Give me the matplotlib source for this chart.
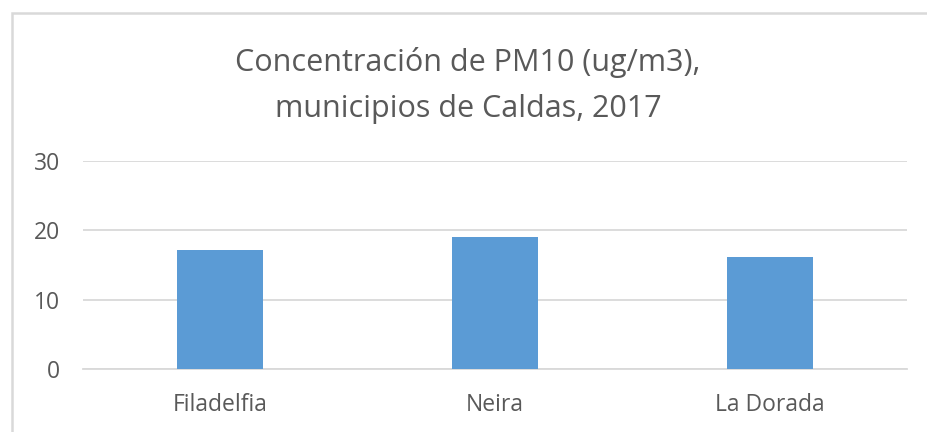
import matplotlib
matplotlib.use("Agg")
import matplotlib.pyplot as plt
from matplotlib.patches import Rectangle

categories = ["Filadelfia", "Neira", "La Dorada"]
values = [17.1, 19.0, 16.1]
yticks = [0, 10, 20, 30]
title_lines = ["Concentración de PM10 (ug/m3),", "municipios de Caldas, 2017"]

plt.rcParams['font.family'] = ['Open Sans', 'DejaVu Sans']
W, H = 927, 432
fig = plt.figure(figsize=(W/100, H/100), dpi=100)
fig.patch.set_facecolor("white")

# chart border (left and top visible)
fig.add_artist(Rectangle((11.5/W, -0.1), 1.2, (H - 12.5)/H + 0.1, transform=fig.transFigure,
                         fill=False, edgecolor="#d9d9d9", linewidth=1.8))

ax = fig.add_axes([83/W, 1 - 369/H, (907-83)/W, (369-161)/H])
ax.bar(range(len(categories)), values, width=0.313, color="#5B9BD5", zorder=3)
ax.set_xlim(-0.5, len(categories) - 0.5)
ax.set_ylim(0, 30)
ax.set_yticks(yticks)
ax.set_xticks(range(len(categories)))
ax.set_xticklabels(categories)
ax.yaxis.grid(True, color="#d9d9d9", linewidth=1.3, zorder=0)
for s in ax.spines.values():
    s.set_visible(False)
ax.spines['bottom'].set_visible(True)
ax.spines['bottom'].set_color("#d9d9d9")
ax.spines['bottom'].set_linewidth(1.3)
ax.tick_params(axis='both', length=0, colors="#595959", labelsize=16.5)
ax.tick_params(axis='y', pad=16.5)
ax.tick_params(axis='x', pad=17)

fig.text(468/W, 1 - 71/H, title_lines[0], ha="center", va="baseline", fontsize=22,
         color="#595959")
fig.text(468/W, 1 - 117/H, title_lines[1], ha="center", va="baseline", fontsize=22,
         color="#595959")

fig.savefig("out.png", dpi=100, facecolor="white")
